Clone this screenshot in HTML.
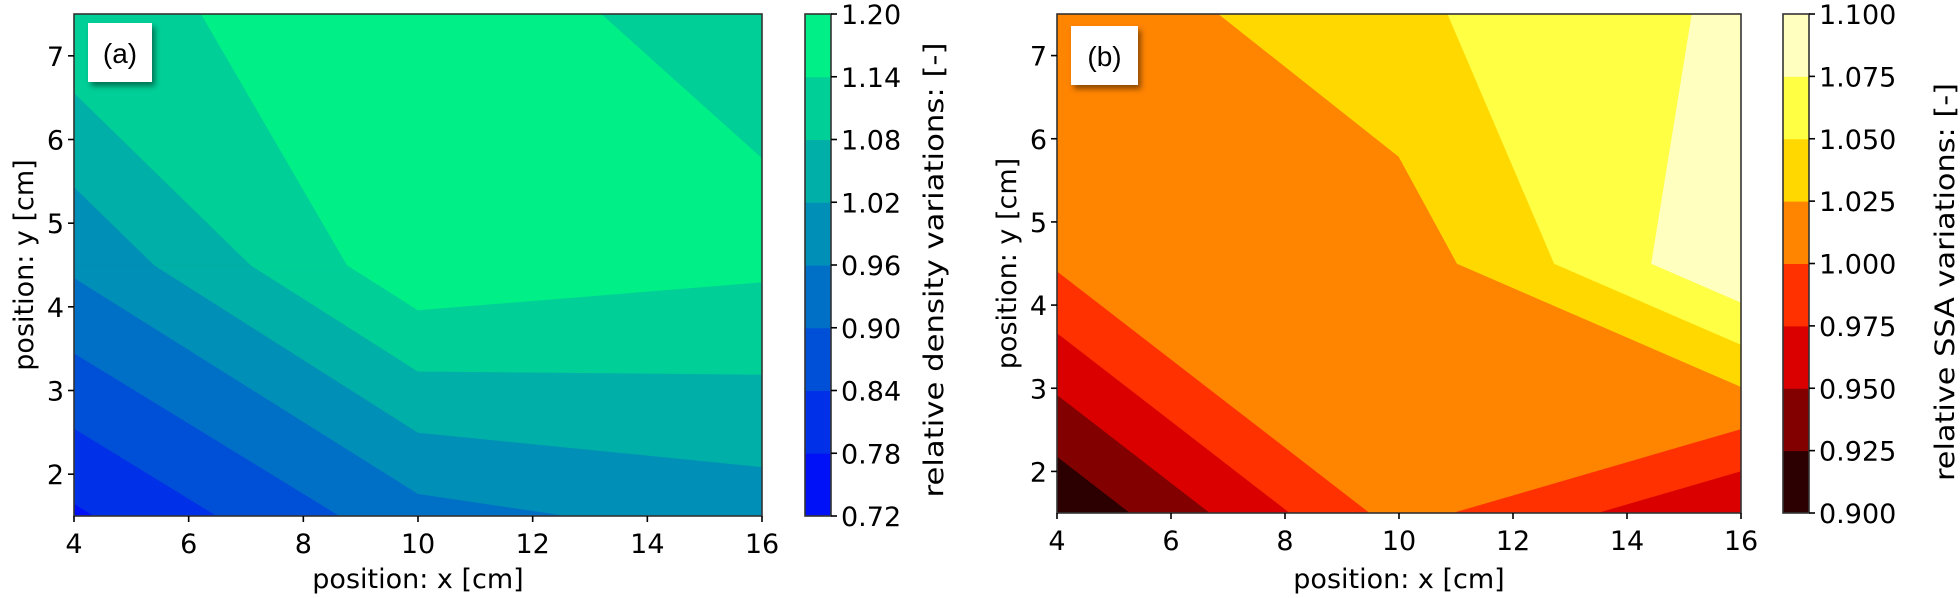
<!DOCTYPE html>
<html><head><meta charset="utf-8"><style>
html,body{margin:0;padding:0;background:#fff;}
svg{display:block;}
text{font-family:"DejaVu Sans","Liberation Sans",sans-serif;fill:#000;}
</style></head><body>
<svg id="fig" width="1960" height="598" viewBox="0 0 1960 598" xmlns="http://www.w3.org/2000/svg">
<defs><filter id="sh" x="-30%" y="-30%" width="160%" height="160%"><feDropShadow dx="3" dy="4" stdDeviation="3" flood-color="#000" flood-opacity="0.45"/></filter></defs>
</svg>
<script>
// ---- data ----
const gridX = [4, 10, 16];
const gridY = [1.5, 4.5, 7.5];
const densityValues = [
  [0.770, 0.938, 0.988],
  [0.970, 1.184, 1.151],
  [1.130, 1.157, 1.125]
];
const ssaValues = [
  [0.902, 1.009, 0.950],
  [1.003, 1.010, 1.098],
  [1.007, 1.045, 1.080]
];
const densityLevels = [0.72, 0.78, 0.84, 0.90, 0.96, 1.02, 1.08, 1.14, 1.20];
const ssaLevels = [0.900, 0.925, 0.950, 0.975, 1.000, 1.025, 1.050, 1.075, 1.100];
const densityTickLabels = ["0.72","0.78","0.84","0.90","0.96","1.02","1.08","1.14","1.20"];
const ssaTickLabels = ["0.900","0.925","0.950","0.975","1.000","1.025","1.050","1.075","1.100"];
const xTicks = [4, 6, 8, 10, 12, 14, 16];
const yTicks = [2, 3, 4, 5, 6, 7];

const NS = "http://www.w3.org/2000/svg";
const svg = document.getElementById('fig');
function mk(tag, attrs, parent) {
  const e = document.createElementNS(NS, tag);
  for (const k in attrs) e.setAttribute(k, attrs[k]);
  (parent || svg).appendChild(e);
  return e;
}
function winter(t){return [0, Math.round(255*t), Math.round(255*(1-t/2))];}
function hot(t){
  const c=v=>Math.max(0,Math.min(1,v));
  return [Math.round(255*c(t/0.365)), Math.round(255*c((t-0.365)/0.381)), Math.round(255*c((t-0.746)/0.254))];
}
function rgb(c){return `rgb(${c[0]},${c[1]},${c[2]})`;}

// marching-squares band polygon within one cell
function bandPoly(corners, lo, hi, isTop) {
  // corners: [[x,y,v], ...] in boundary order
  const pts = [];
  const inB = v => v >= lo && (isTop ? v <= hi + 1e-9 : v < hi);
  for (let k = 0; k < 4; k++) {
    const a = corners[k], b = corners[(k+1)%4];
    if (inB(a[2])) pts.push([a[0], a[1]]);
    const cr = [];
    [lo, hi].forEach(L => {
      if ((a[2]-L)*(b[2]-L) < 0) {
        const t = (L-a[2])/(b[2]-a[2]);
        cr.push([t, a[0]+t*(b[0]-a[0]), a[1]+t*(b[1]-a[1])]);
      }
    });
    cr.sort((p,q)=>p[0]-q[0]).forEach(c=>pts.push([c[1],c[2]]));
  }
  return pts;
}

function panel(o) {
  const g = mk('g', {});
  
  
  const sx = x => o.L + (x-4)/(16-4)*(o.R-o.L);
  const sy = y => o.B - (y-1.5)/(7.5-1.5)*(o.B-o.T);
  const n = o.levels.length-1;
  const colors = [];
  for (let k=0;k<n;k++) colors.push(rgb(o.cmap((k+0.5)/n)));
  const cg = mk('g', {}, g);
  
  
  for (let j=0;j<gridY.length-1;j++) for (let i=0;i<gridX.length-1;i++) {
    const V=o.values;
    const corners=[
      [gridX[i],gridY[j],V[j][i]],
      [gridX[i+1],gridY[j],V[j][i+1]],
      [gridX[i+1],gridY[j+1],V[j+1][i+1]],
      [gridX[i],gridY[j+1],V[j+1][i]]
    ];
    for (let k=0;k<n;k++){
      const lo = k===0 ? -1e9 : o.levels[k];
      const hi = k===n-1 ? 1e9 : o.levels[k+1];
      const pts = bandPoly(corners, lo, hi, k===n-1);
      if (pts.length < 3) continue;
      const d = 'M' + pts.map(p=>sx(p[0]).toFixed(2)+','+sy(p[1]).toFixed(2)).join('L') + 'Z';
      const p = mk('path',{d:d, fill:colors[k], stroke:colors[k], 'stroke-width':0.8, 'stroke-linejoin':'round'}, cg);
      
      
    }
  }
  const fr = mk('rect', {x:o.L, y:o.T, width:o.R-o.L, height:o.B-o.T, fill:'none', stroke:'#333', 'stroke-width':1.6}, g);
  
  
  xTicks.forEach(t=>{
    const x=sx(t);
    mk('line',{x1:x,x2:x,y1:o.B,y2:o.B+6,stroke:'#000','stroke-width':1.6},g);
    const tx=mk('text',{x:x,y:o.B+37,'font-size':27,'text-anchor':'middle'},g);
    tx.textContent=t;
    
    
  });
  yTicks.forEach(t=>{
    const y=sy(t);
    mk('line',{x1:o.L-6,x2:o.L,y1:y,y2:y,stroke:'#000','stroke-width':1.6},g);
    const tx=mk('text',{x:o.L-10,y:y+10,'font-size':27,'text-anchor':'end'},g);
    tx.textContent=t;
    
    
  });
  const xl=mk('text',{x:(o.L+o.R)/2,y:588,'font-size':27,'text-anchor':'middle'},g);
  xl.textContent='position: x [cm]';
  
  
  const yc=(o.T+o.B)/2;
  const yl=mk('text',{x:0,y:0,'font-size':27,'text-anchor':'middle',transform:`translate(${o.L-41},${yc}) rotate(-90)`},g);
  yl.textContent='position: y [cm]';
  
  
  const bx=mk('rect',{x:o.box[0],y:o.box[1],width:o.box[2],height:o.box[3],fill:'#fff',filter:'url(#sh)'},g);
  
  
  const bt=mk('text',{x:o.box[0]+o.box[2]/2,y:o.box[1]+40,'font-size':28,'text-anchor':'middle',style:'font-family:"Liberation Sans",sans-serif'},g);
  bt.textContent=o.label;
  
  
  const cb = mk('g',{},g);
  
  
  const cT=o.T, cB=o.B, h=(cB-cT)/n;
  for (let k=0;k<n;k++){
    const r=mk('rect',{x:o.cbL,y:cB-(k+1)*h,width:o.cbW,height:h+0.5,fill:colors[k]},cb);
    
    
  }
  mk('rect',{x:o.cbL,y:cT,width:o.cbW,height:cB-cT,fill:'none',stroke:'#333','stroke-width':1.6},cb);
  o.ticks.forEach((lab,k)=>{
    const y=cB-k*h;
    mk('line',{x1:o.cbL+o.cbW,x2:o.cbL+o.cbW+6,y1:y,y2:y,stroke:'#000','stroke-width':1.6},cb);
    const tx=mk('text',{x:o.cbL+o.cbW+10,y:y+10,'font-size':27},cb);
    tx.textContent=lab;
    
    
  });
  const cl=mk('text',{x:0,y:0,'font-size':27,'text-anchor':'middle',transform:`translate(${o.cblX},${o.cblY}) rotate(-90)`,textLength:o.cblLen,lengthAdjust:'spacingAndGlyphs'},cb);
  cl.textContent=o.cbLabel;
  
  
}

panel({name:'density-panel',L:74,R:762,T:14,B:516,values:densityValues,levels:densityLevels,cmap:winter,
  ticks:densityTickLabels,cbL:805,cbW:26,box:[88,23,64,59],label:'(a)',
  cbLabel:'relative density variations: [-]',cblX:943,cblY:270,cblLen:455});
panel({name:'ssa-panel',L:1057,R:1741,T:14,B:513,values:ssaValues,levels:ssaLevels,cmap:hot,
  ticks:ssaTickLabels,cbL:1783,cbW:26,box:[1071,26,67,59],label:'(b)',
  cbLabel:'relative SSA variations: [-]',cblX:1954,cblY:282,cblLen:398});
</script>
</body></html>
